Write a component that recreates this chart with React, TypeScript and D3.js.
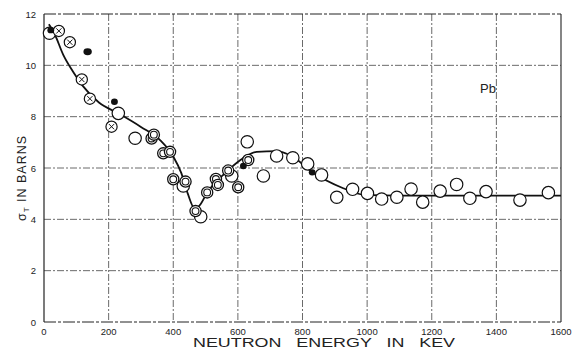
import React from 'react';
import * as d3 from 'd3';

// Total cross section of lead vs neutron energy
const xTicks = [0, 200, 400, 600, 800, 1000, 1200, 1400, 1600];
const yTicks = [0, 2, 4, 6, 8, 10, 12];

// open circles [keV, barns]
const openPts: [number, number][] = [
  [17, 11.25], [230, 8.13], [282, 7.16], [431, 5.3], [485, 4.1], [581, 5.69],
  [629, 7.02], [679, 5.69], [720, 6.47], [770, 6.4], [816, 6.16], [859, 5.73],
  [906, 4.86], [955, 5.17], [1001, 5.01], [1045, 4.79], [1092, 4.86], [1136, 5.18],
  [1172, 4.67], [1226, 5.1], [1277, 5.36], [1318, 4.82], [1368, 5.08], [1473, 4.75],
  [1561, 5.04],
];

// circles with a cross
const crossPts: [number, number][] = [
  [46, 11.34], [80, 10.9], [117, 9.45], [142, 8.7], [209, 7.61],
];

// double circles
const doublePts: [number, number][] = [
  [333, 7.15], [340, 7.3], [369, 6.57], [390, 6.63], [400, 5.56], [438, 5.47],
  [469, 4.32], [505, 5.05], [532, 5.57], [538, 5.34], [570, 5.9], [601, 5.25],
  [632, 6.31],
];

// filled dots
const filledPts: [number, number][] = [
  [21, 11.37], [135, 10.53], [218, 8.58], [617, 6.08], [830, 5.83],
];

// drawn fit curve
const curvePts: [number, number][] = [
  [15, 11.6], [30, 11.3], [60, 10.4], [90, 9.75], [120, 9.2], [170, 8.55],
  [230, 8.13], [300, 7.6], [360, 7.08], [400, 6.45], [425, 5.8], [445, 5.0],
  [467, 4.4], [485, 4.6], [503, 5.0], [565, 5.85], [607, 6.3], [658, 6.63],
  [720, 6.66], [770, 6.44], [828, 5.86], [926, 5.21], [993, 4.95], [1100, 4.92],
  [1600, 4.92],
];

const W = 576;
const H = 353;
const left = 44, right = 561, top = 14, bottom = 322;

const font = '"Liberation Sans", Arial, sans-serif';

export default function App() {
  const x = d3.scaleLinear().domain([0, 1600]).range([left, right]);
  const y = d3.scaleLinear().domain([0, 12]).range([bottom, top]);

  const line = d3.line<[number, number]>()
    .x(d => x(d[0]))
    .y(d => y(d[1]))
    .curve(d3.curveMonotoneX);

  const dash = '7,2,2,2';
  const ink = '#222';

  return (
    <svg width={W} height={H} style={{ position: 'fixed', left: 0, top: 0, background: '#fff' }}>
      <rect width={W} height={H} fill="#fff" />
      {/* grid */}
      {xTicks.slice(1, -1).map(t => (
        <line key={'gx' + t} x1={x(t)} x2={x(t)} y1={top} y2={bottom}
          stroke="#444" strokeWidth={0.8} strokeDasharray={dash} />
      ))}
      {yTicks.slice(1, -1).map(t => (
        <line key={'gy' + t} x1={left} x2={right} y1={y(t)} y2={y(t)}
          stroke="#444" strokeWidth={0.8} strokeDasharray={dash} />
      ))}
      {/* frame */}
      <line x1={left} x2={left} y1={top} y2={bottom} stroke={ink} strokeWidth={1.2} />
      <line x1={left} x2={right} y1={bottom} y2={bottom} stroke={ink} strokeWidth={1} strokeDasharray="12,2,3,2" />
      <line x1={left} x2={right} y1={top} y2={top} stroke={ink} strokeWidth={1} strokeDasharray="12,2,3,2" />
      <line x1={right} x2={right} y1={top} y2={bottom} stroke={ink} strokeWidth={1.1} />

      {/* tick labels */}
      {xTicks.map(t => (
        <text key={'tx' + t} x={x(t)} y={bottom + 13} fontSize={9.5} fontFamily={font}
          textAnchor="middle" fill={ink}>{t}</text>
      ))}
      {yTicks.map(t => (
        <text key={'ty' + t} x={left - 8} y={y(t) + 3.5} fontSize={9.5} fontFamily={font}
          textAnchor="end" fill={ink}>{t}</text>
      ))}

      {/* axis titles */}
      <text x={193} y={347} fontSize={12.5} fontFamily={font} xmlSpace="preserve"
        textLength={262} lengthAdjust="spacingAndGlyphs" fill={ink}>NEUTRON   ENERGY   IN   KEV</text>
      <text transform={`translate(26,${178}) rotate(-90)`} fontSize={12.5} fontFamily={font}
        textAnchor="middle" letterSpacing={1} fill={ink}>
        σ<tspan fontSize={8} dy={3}>T</tspan><tspan dy={-3}>  IN  BARNS</tspan>
      </text>
      <text x={480} y={93} fontSize={13} fontFamily={font} fill={ink}>Pb</text>

      {/* fitted curve */}
      <path d={line(curvePts) || ''} fill="none" stroke="#111" strokeWidth={1.8} />

      {/* markers */}
      {openPts.map((d, i) => (
        <circle key={'o' + i} cx={x(d[0])} cy={y(d[1])} r={6.2} fill="#fff" stroke="#111" strokeWidth={1.2} />
      ))}
      {doublePts.map((d, i) => (
        <g key={'d' + i}>
          <circle cx={x(d[0])} cy={y(d[1])} r={5.6} fill="#fff" stroke="#111" strokeWidth={1.3} />
          <circle cx={x(d[0])} cy={y(d[1])} r={3.4} fill="none" stroke="#111" strokeWidth={1.1} />
        </g>
      ))}
      {crossPts.map((d, i) => {
        const cx = x(d[0]), cy = y(d[1]), r = 5.6, k = 2.6;
        return (
          <g key={'c' + i}>
            <circle cx={cx} cy={cy} r={r} fill="#fff" stroke="#111" strokeWidth={1.2} />
            <line x1={cx - k} x2={cx + k} y1={cy - k} y2={cy + k} stroke="#111" strokeWidth={1} />
            <line x1={cx - k} x2={cx + k} y1={cy + k} y2={cy - k} stroke="#111" strokeWidth={1} />
          </g>
        );
      })}
      {filledPts.map((d, i) => (
        <ellipse key={'f' + i} cx={x(d[0])} cy={y(d[1])} rx={i === 1 ? 4.2 : 3.4} ry={i === 1 ? 3.4 : 3.2} fill="#111" />
      ))}
    </svg>
  );
}
